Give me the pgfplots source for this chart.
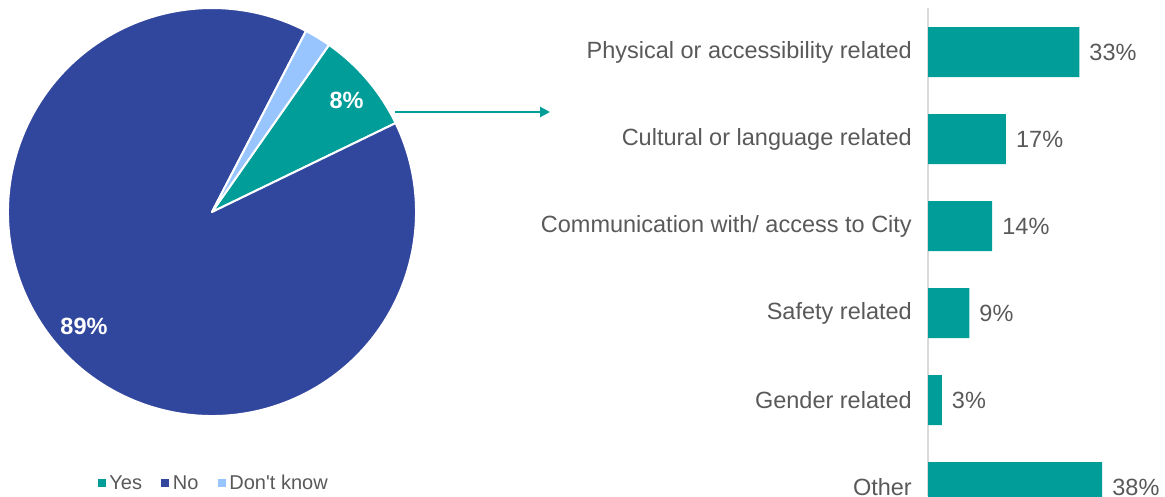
\documentclass[border=0pt]{standalone}
\usepackage{fontspec}
\setmainfont{Liberation Sans}
\usepackage{pgfplots}
\pgfplotsset{compat=1.18}
\usepackage{pgfplotstable}
\usetikzlibrary{arrows.meta,calc}
\definecolor{cteal}{RGB}{0,157,153}
\definecolor{cnavy}{RGB}{49,71,158}
\definecolor{clight}{RGB}{153,197,255}
\definecolor{ctext}{RGB}{89,89,89}
\definecolor{caxis}{RGB}{217,217,217}

\pgfplotstableread{
idx value
0 33
1 17
2 14
3 9
4 3
5 38
}\bardata

\begin{document}
\begin{tikzpicture}
\useasboundingbox (0pt,0pt) rectangle (1165pt,496pt);
% pie values (percent)
\def\pYes{8.1}\def\pNo{89.8}\def\pDK{2.1}
\pgfmathsetmacro\aA{55}
\pgfmathsetmacro\aB{\aA-3.6*\pYes}
\pgfmathsetmacro\aC{\aB-3.6*\pNo}
\pgfmathsetmacro\aD{\aC-3.6*\pDK}
\begin{axis}[at={(8pt,80pt)}, anchor=south west, width=408pt, height=408pt,
  scale only axis, xmin=-1, xmax=1, ymin=-1, ymax=1, hide axis, clip=false,
  legend style={at={(0.504,-0.164)}, anchor=center, draw=none, fill=none,
    legend columns=-1, font=\fontsize{20}{24}\selectfont, text=ctext,
    /tikz/every even column/.append style={column sep=17pt},
    inner sep=0pt, nodes={inner sep=2pt}},
  legend cell align=left]
\addlegendimage{legend image code/.code={\fill[cteal] (0pt,-3.5pt) rectangle (7pt,3.5pt); \node[inner sep=0pt, minimum size=0pt] at (9.5pt,0pt) {};}}
\addlegendentry{Yes}
\addlegendimage{legend image code/.code={\fill[cnavy] (0pt,-3.5pt) rectangle (7pt,3.5pt); \node[inner sep=0pt, minimum size=0pt] at (9.5pt,0pt) {};}}
\addlegendentry{No}
\addlegendimage{legend image code/.code={\fill[clight] (0pt,-3.5pt) rectangle (7pt,3.5pt); \node[inner sep=0pt, minimum size=0pt] at (9.5pt,0pt) {};}}
\addlegendentry{Don\textquotesingle t know}
\filldraw[fill=cteal, draw=white, line width=2pt, line join=round] (axis cs:0,0) -- ++(\aA:204pt) arc[start angle=\aA, end angle=\aB, radius=204pt] -- cycle;
\filldraw[fill=cnavy, draw=white, line width=2pt, line join=round] (axis cs:0,0) -- ++(\aB:204pt) arc[start angle=\aB, end angle=\aC, radius=204pt] -- cycle;
\filldraw[fill=clight, draw=white, line width=2pt, line join=round] (axis cs:0,0) -- ++(\aC:204pt) arc[start angle=\aC, end angle=\aD, radius=204pt] -- cycle;
\node[text=white, font=\fontsize{23.5}{28}\selectfont\bfseries] at ($(axis cs:0,0)+(39.7:175pt)$) {8\%};
\node[text=white, font=\fontsize{23.5}{28}\selectfont\bfseries] at ($(axis cs:0,0)+(221.9:172pt)$) {89\%};
\end{axis}
\draw[cteal, line width=2.8pt, -{Triangle[length=10pt,width=10pt]}] (395pt,384pt) -- (550pt,384pt);
% bars
\begin{axis}[at={(928pt,0pt)}, anchor=south west, width=237pt, height=488pt,
  scale only axis, xbar, bar width=50pt,
  xmin=0, xmax=51.7, ymin=-0.506, ymax=5.103, y dir=reverse,
  axis x line=none, axis y line*=left,
  axis line style={caxis, line width=1.2pt, -},
  ytick={0,1,2,3,4,5}, major tick length=0pt,
  yticklabels={Physical or accessibility related, Cultural or language related, Communication with/ access to City, Safety related, Gender related, Other},
  yticklabel style={text=ctext, font=\fontsize{23.5}{28}\selectfont, inner sep=0pt, xshift=-16pt, anchor=east},
  point meta=x,
  nodes near coords={\pgfmathprintnumber{\pgfplotspointmeta}\%},
  nodes near coords style={anchor=west, text=ctext, font=\fontsize{23.5}{28}\selectfont, inner sep=0pt, xshift=10pt, /pgf/number format/assume math mode=true},
  ]
\addplot[fill=cteal, draw=none] table[x=value, y=idx] {\bardata};
\end{axis}
\end{tikzpicture}
\end{document}
